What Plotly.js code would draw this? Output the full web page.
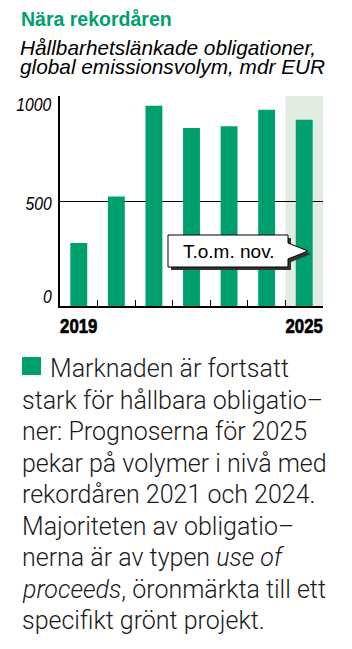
<!DOCTYPE html>
<html>
<head>
<meta charset="utf-8">
<script src="https://cdn.plot.ly/plotly-3.0.1.min.js"></script>
<style>
html,body{margin:0;padding:0;background:#fff;}
#chart{width:352px;height:649px;}
</style>
</head>
<body>
<div id="chart"></div>
<script>
// ---- data ----
const years = [2019, 2020, 2021, 2022, 2023, 2024, 2025];
const volumes = [300, 522, 954, 848, 856, 935, 887];
const xTickYears = [2019, 2025];
const xTickText = ['2019', '2025'];
const yTickVals = [0, 500, 1000];
const yTickText = ['0', '500', '1000'];
const title = 'Nära rekordåren';
const subtitleLines = ['Hållbarhetslänkade obligationer,', 'global emissionsvolym, mdr EUR'];
const calloutText = 'T.o.m. nov.';
const bodyLines = [
  'Marknaden är fortsatt',
  'stark för hållbara obligatio–',
  'ner: Prognoserna för 2025',
  'pekar på volymer i nivå med',
  'rekordåren 2021 och 2024.',
  'Majoriteten av obligatio–',
  'nerna är av typen <i>use of</i>',
  '<i>proceeds</i>, öronmärkta till ett',
  'specifikt grönt projekt.'
];

// ---- layout geometry (pixels) ----
const W = 352, H = 649;
const L = 60, R = 323, T = 96, B = 306;
const X = px => (px - L) / (R - L);
const Y = py => (B - py) / (B - T);
const green = '#00a06e';
const sans = 'Liberation Sans, Arial, sans-serif';

const boundaries = years.slice(0, -1).map(y => y + 0.5);

const trace = {
  type: 'bar',
  x: years,
  y: volumes,
  width: 0.45,
  marker: {color: green, line: {width: 0}},
  hoverinfo: 'skip'
};

const annotations = [];
const yLabelIdx = [];
// title & subtitle
annotations.push({xref: 'paper', yref: 'paper', x: X(19), y: Y(32.5), xanchor: 'left', yanchor: 'bottom',
  text: '<b>' + title + '</b>', showarrow: false,
  font: {family: sans, size: 19.5, color: green}});
subtitleLines.forEach((t, i) => {
  annotations.push({xref: 'paper', yref: 'paper', x: X(18), y: Y(61 + i * 19), xanchor: 'left', yanchor: 'bottom',
    text: '<i>' + t + '</i>', showarrow: false,
    font: {family: sans, size: 20.8, color: '#000'}});
});
// y tick labels
const yAnch = ['bottom', 'middle', 'top'];
yTickVals.forEach((v, i) => {
  yLabelIdx.push(annotations.length);
  annotations.push({xref: 'paper', yref: 'y', x: X(54), y: v, xanchor: 'right', yanchor: yAnch[i],
    yshift: i === 0 ? -3 : (i === 2 ? 4 : -2),
    text: '<i>' + yTickText[i] + '</i>', showarrow: false,
    font: {family: sans, size: 19, color: '#000'}});
});
// callout text
annotations.push({xref: 'paper', yref: 'paper', x: X(229), y: Y(251), xanchor: 'center', yanchor: 'middle',
  text: calloutText, showarrow: false,
  font: {family: sans, size: 19, color: '#000'}});
// body text
bodyLines.forEach((t, i) => {
  annotations.push({xref: 'paper', yref: 'paper', x: X(i === 0 ? 48 : 20), y: Y(376 + i * 31.5 + 9),
    xanchor: 'left', yanchor: 'bottom', text: t, showarrow: false,
    font: {family: 'Roboto, sans-serif', size: 25, weight: 300, color: '#1a1a1a'}});
});

function path(pts, dx, dy) {
  return 'M' + pts.map(p => X(p[0] + dx) + ',' + Y(p[1] + dy)).join(' L') + ' Z';
}
const calloutPts = [[168, 235], [288, 235], [288, 243], [308, 251], [288, 259], [288, 267], [168, 267]];

const shapes = [
  {type: 'rect', xref: 'x', yref: 'paper', x0: 2024.5, x1: 2025.5, y0: 0, y1: 1,
    fillcolor: '#e1ede1', line: {width: 0}, layer: 'below'},
  {type: 'path', xref: 'paper', yref: 'paper', path: path(calloutPts, 3, 3),
    fillcolor: '#333', line: {width: 0}},
  {type: 'path', xref: 'paper', yref: 'paper', path: path(calloutPts, 0, 0),
    fillcolor: '#fff', line: {color: '#000', width: 1}},
  {type: 'rect', xref: 'paper', yref: 'paper', x0: X(22), x1: X(41), y0: Y(375), y1: Y(357),
    fillcolor: green, line: {width: 0}}
];

const layout = {
  width: W, height: H,
  margin: {l: L, r: W - R, t: T, b: H - B, pad: 0},
  paper_bgcolor: '#fff', plot_bgcolor: 'rgba(0,0,0,0)',
  showlegend: false,
  xaxis: {
    type: 'linear', range: [2018.5, 2025.5], fixedrange: true,
    tickmode: 'array', tickvals: xTickYears, ticktext: xTickText, ticks: '',
    tickfont: {family: sans, size: 21, weight: 'bold', color: '#000'},
    showline: true, linecolor: '#000', linewidth: 2, showgrid: false, zeroline: false,
    minor: {tickmode: 'array', tickvals: boundaries, ticks: 'inside', ticklen: 6, tickwidth: 1, tickcolor: '#000', showgrid: false}
  },
  yaxis: {
    range: [0, 1000], fixedrange: true,
    tickmode: 'array', tickvals: [500, 1000], showticklabels: false, ticks: '',
    showgrid: true, gridcolor: '#000', gridwidth: 1,
    showline: true, linecolor: '#000', linewidth: 2, zeroline: false
  },
  shapes: shapes,
  annotations: annotations
};

// horizontally condense a text element around its anchor x
function condense(el, s) {
  const x = parseFloat(el.getAttribute('x')) || 0;
  const tr = el.getAttribute('transform') || '';
  el.setAttribute('transform', tr + ' translate(' + x + ',0) scale(' + s + ',1) translate(' + (-x) + ',0)');
}

Plotly.newPlot('chart', [trace], layout, {displayModeBar: false, staticPlot: true}).then(gd => {
  gd.querySelectorAll('.xtick text').forEach(el => {
    condense(el, 0.8);
    el.style.stroke = '#000';
    el.style.strokeWidth = '0.7px';
  });
  yLabelIdx.forEach(k => {
    const el = gd.querySelector('g.annotation[data-index="' + k + '"] text');
    if (el) {
      const bb = el.getBBox();
      const right = bb.x + bb.width;
      const s = 0.83;
      el.setAttribute('transform', (el.getAttribute('transform') || '') +
        ' translate(' + right + ',0) scale(' + s + ',1) translate(' + (-right) + ',0)');
    }
  });
});
</script>
</body>
</html>
